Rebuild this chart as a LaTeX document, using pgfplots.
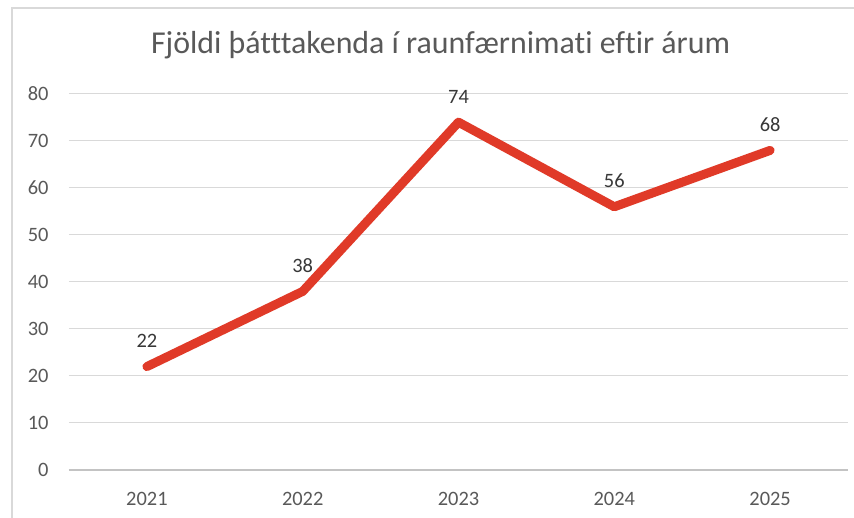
\documentclass[border=0pt]{standalone}
\usepackage{pgfplots}
\pgfplotsset{compat=1.18}
\usepackage{fontspec}
\setmainfont[Ligatures=NoCommon]{Carlito}
\definecolor{linered}{RGB}{224,58,40}
\definecolor{gridgray}{RGB}{217,217,217}
\definecolor{txtgray}{RGB}{89,89,89}
\begin{document}
\begin{tikzpicture}[x=1bp,y=1bp]
\useasboundingbox (-69,-48) rectangle (785,470);
\fill[white] (-69,-48) rectangle (785,470);
\draw[gridgray, line width=1.2bp] (-57,-80) -- (-57,462) -- (820,462);
\begin{axis}[
  at={(0,0)}, anchor=south west,
  scale only axis, width=779bp, height=376bp,
  xmin=-0.5, xmax=4.5, ymin=0, ymax=80,
  xtick={0,1,2,3,4}, xticklabels={2021,2022,2023,2024,2025},
  ytick={0,10,...,80},
  axis line style={draw=none},
  axis x line*=bottom,
  ymajorgrids, grid style={gridgray, line width=1bp},
  major tick length=0pt,
  tick label style={text=txtgray, font=\fontsize{20.5}{24}\selectfont},
  yticklabel style={xshift=-17bp},
  xticklabel style={yshift=-19bp},
  /pgf/number format/assume math mode=true,
  clip=false,
  nodes near coords,
  every node near coord/.append style={font=\fontsize{20.5}{24}\selectfont, text=black!78, anchor=south, yshift=11bp},
]
\addplot[linered, line width=9bp, line cap=round, line join=round, mark=none] coordinates {(0,22) (1,38) (2,74) (3,56) (4,68)};
\draw[gridgray!90!black, line width=1.2bp] (axis cs:-0.5,0) -- (axis cs:4.5,0);
\node[font=\fontsize{32}{38}\selectfont, text=txtgray] at (rel axis cs:0.477,1) [yshift=49bp] {Fjöldi þátttakenda í raunfærnimati eftir árum};
\end{axis}
\end{tikzpicture}
\end{document}
